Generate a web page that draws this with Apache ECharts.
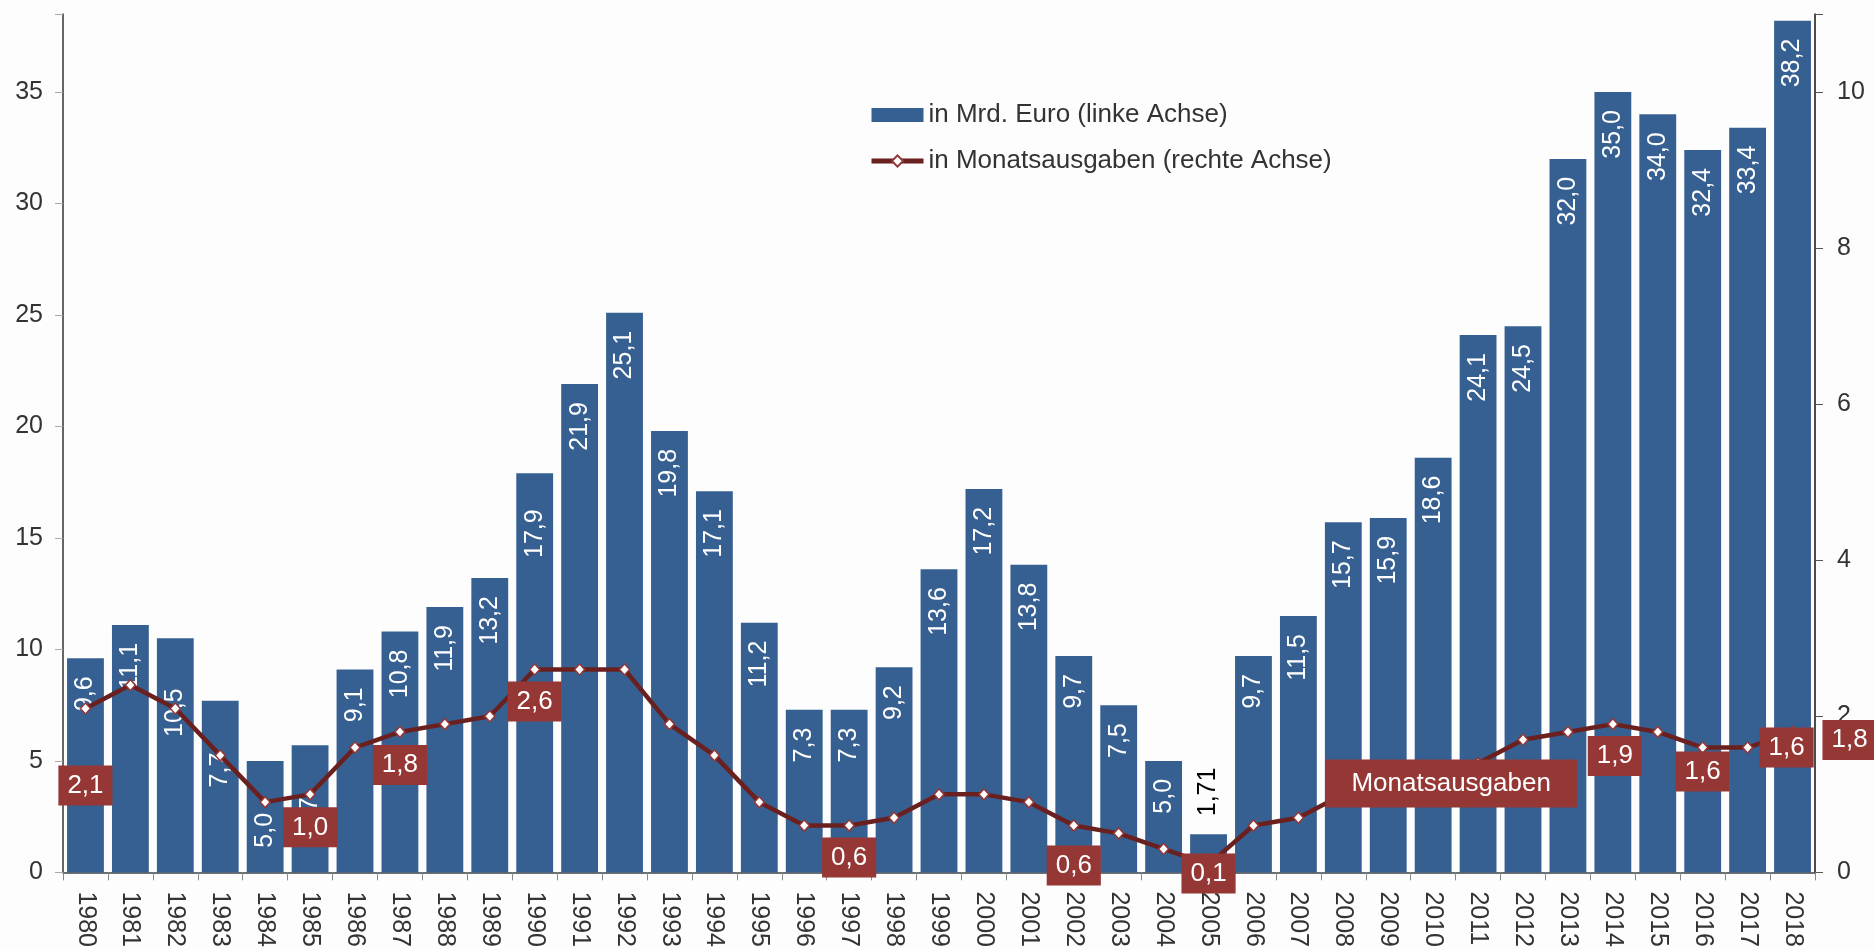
<!DOCTYPE html>
<html><head><meta charset="utf-8">
<script src="https://cdn.jsdelivr.net/npm/echarts@6/dist/echarts.min.js"></script>
<style>html,body{margin:0;padding:0;background:#fdfdfd}#c{width:1874px;height:950px}</style>
</head><body><div id="c"></div>
<script>
const years = ['1980','1981','1982','1983','1984','1985','1986','1987','1988','1989','1990','1991','1992','1993','1994','1995','1996','1997','1998','1999','2000','2001','2002','2003','2004','2005','2006','2007','2008','2009','2010','2011','2012','2013','2014','2015','2016','2017','2018'];
const reserveBn = [9.6,11.1,10.5,7.7,5.0,5.7,9.1,10.8,11.9,13.2,17.9,21.9,25.1,19.8,17.1,11.2,7.3,7.3,9.2,13.6,17.2,13.8,9.7,7.5,5.0,1.71,9.7,11.5,15.7,15.9,18.6,24.1,24.5,32.0,35.0,34.0,32.4,33.4,38.2];
const monthsCover = [2.1,2.4,2.1,1.5,0.9,1.0,1.6,1.8,1.9,2.0,2.6,2.6,2.6,1.9,1.5,0.9,0.6,0.6,0.7,1.0,1.0,0.9,0.6,0.5,0.3,0.1,0.6,0.7,1.0,1.0,1.1,1.4,1.7,1.8,1.9,1.8,1.6,1.6,1.8];
const legendNames = ['in Mrd. Euro (linke Achse)', 'in Monatsausgaben (rechte Achse)'];
const calloutText = 'Monatsausgaben';

const FONT = '"Liberation Sans", Arial, sans-serif';
const fmt = v => (Math.abs(v * 10 - Math.round(v * 10)) < 1e-9 ? v.toFixed(1) : String(v)).replace('.', ',');

// label placement styling (not data)
const barLabelDist = {'1982': 50, '1983': 52, '1984': 52, '1985': 52, '1990': 36};
const boxOffsets = {'1980': [0, 77], '1985': [0, 33], '1987': [0, 33], '1990': [0, 32], '1997': [0, 32], '2002': [0, 40], '2005': [0, 9], '2014': [2, 32], '2016': [0, 24], '2017': [39, 0], '2018': [57, 8]};
const calloutAt = {year: '2010', offset: [18, -3]};

const BOX = '#953735';
const LINE = '#6b2020';
const boxStyle = {show: true, position: 'inside', color: '#fff', backgroundColor: BOX, fontSize: 26, fontFamily: FONT, padding: [7, 9], formatter: p => fmt(p.value)};

const barData = reserveBn.map((v, i) => {
  const y = years[i];
  if (v < 3) return {value: v, label: {position: 'top', align: 'left', color: '#000', distance: 18}};
  if (barLabelDist[y]) return {value: v, label: {distance: barLabelDist[y]}};
  return v;
});

const lineData = monthsCover.map((v, i) => {
  const y = years[i];
  if (boxOffsets[y]) return {value: v, label: Object.assign({}, boxStyle, {offset: boxOffsets[y]})};
  if (y === calloutAt.year) return {value: v, label: Object.assign({}, boxStyle, {offset: calloutAt.offset, formatter: calloutText, padding: [11, 26]})};
  return v;
});

const chart = echarts.init(document.getElementById('c'), null, {renderer: 'canvas'});
chart.setOption({
  backgroundColor: '#fdfdfd',
  animation: false,
  textStyle: {fontFamily: FONT},
  legend: {
    orient: 'vertical', left: 864, top: 97, itemWidth: 52, itemHeight: 14, itemGap: 20,
    textStyle: {fontSize: 26, color: '#333', fontFamily: FONT},
    data: [
      {name: legendNames[0], icon: 'rect'},
      {name: legendNames[1], lineStyle: {width: 5, color: LINE}, itemStyle: {color: '#fff', borderColor: BOX, borderWidth: 2}}
    ]
  },
  grid: {left: 63, right: 59, top: 14, bottom: 76},
  xAxis: {
    type: 'category', data: years,
    axisLine: {lineStyle: {color: '#404040', width: 1.5}},
    axisTick: {show: true, length: 8, lineStyle: {color: '#888'}},
    axisLabel: {rotate: -90, fontSize: 25, color: '#333', margin: 19, interval: 0, fontFamily: FONT}
  },
  yAxis: [
    {type: 'value', min: 0, max: 38.5, interval: 5, position: 'left', splitLine: {show: false},
     axisLine: {show: true, lineStyle: {color: '#333', width: 1.5}},
     axisTick: {show: true, length: 8, lineStyle: {color: '#aaa'}},
     axisLabel: {fontSize: 25, color: '#333', margin: 20, fontFamily: FONT, formatter: v => (v % 5 === 0 ? String(v) : '')}},
    {type: 'value', min: 0, max: 11, interval: 2, position: 'right', splitLine: {show: false},
     axisLine: {show: true, lineStyle: {color: '#111', width: 1.5}},
     axisTick: {show: true, length: 8, lineStyle: {color: '#555'}},
     axisLabel: {fontSize: 25, color: '#333', margin: 22, fontFamily: FONT, formatter: v => (v % 2 === 0 ? String(v) : '')}}
  ],
  series: [
    {name: legendNames[0], type: 'bar', yAxisIndex: 0, data: barData, barCategoryGap: '18%',
     itemStyle: {color: '#366092'},
     label: {show: true, position: 'insideTop', rotate: 90, align: 'right', verticalAlign: 'middle', distance: 18,
             color: '#fff', fontSize: 25, fontFamily: FONT, formatter: p => fmt(p.value)},
     z: 2},
    {name: legendNames[1], type: 'line', yAxisIndex: 1, data: lineData, clip: false,
     lineStyle: {color: LINE, width: 4.5},
     itemStyle: {color: '#fff', borderColor: BOX, borderWidth: 1.5},
     symbol: 'diamond', symbolSize: [10, 11], showAllSymbol: true,
     label: {show: false},
     z: 5}
  ]
});
</script></body></html>
